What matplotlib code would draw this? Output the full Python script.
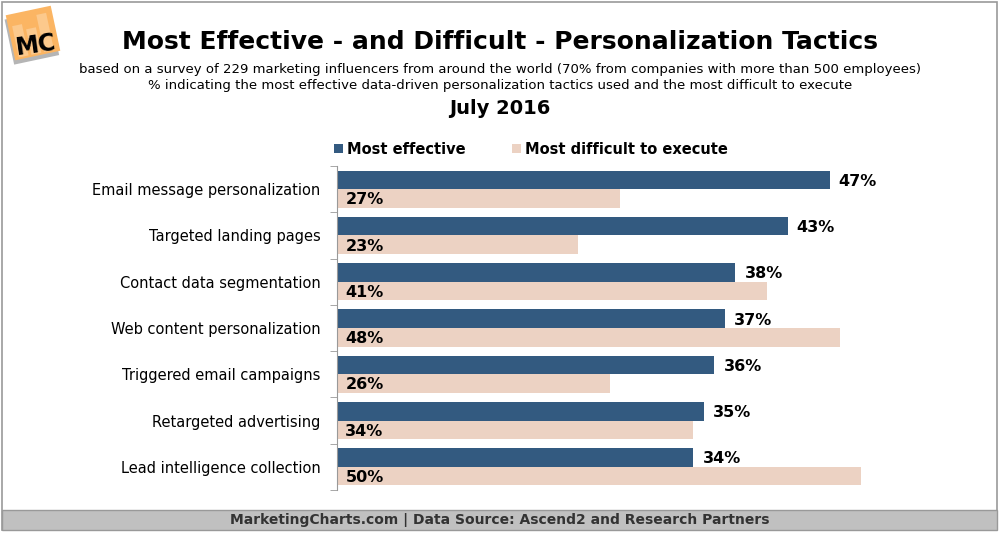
import matplotlib.pyplot as plt
from matplotlib.patches import Rectangle, Polygon
import numpy as np

# data
tactics = ["Email message personalization", "Targeted landing pages",
           "Contact data segmentation", "Web content personalization",
           "Triggered email campaigns", "Retargeted advertising",
           "Lead intelligence collection"]
most_effective = [47, 43, 38, 37, 36, 35, 34]
most_difficult = [27, 23, 41, 48, 26, 34, 50]

blue = "#335a80"
pink = "#ecd2c3"

W, H = 1000, 535
fig = plt.figure(figsize=(10, 5.35), dpi=100)

def fx(px):
    return px / W

def fy(py):
    return 1 - py / H

# frame and footer band
fig.patches.append(Rectangle((fx(2), fy(530)), fx(995), 528 / H, transform=fig.transFigure,
                             fill=False, edgecolor="#999999", lw=1.2))
fig.patches.append(Rectangle((fx(2), fy(530)), fx(995), 20 / H, transform=fig.transFigure,
                             facecolor="#c0c0c0", edgecolor="#999999", lw=1.0))
fig.text(0.5, fy(520), "MarketingCharts.com | Data Source: Ascend2 and Research Partners",
         ha="center", va="center", fontsize=10, fontweight="bold", color="#333333")

# logo (tilted orange square)
def rot(pts, cx, cy, ang):
    a = np.deg2rad(ang)
    out = []
    for x, y in pts:
        dx, dy = x - cx, y - cy
        out.append((cx + dx * np.cos(a) - dy * np.sin(a), cy + dx * np.sin(a) + dy * np.cos(a)))
    return [(fx(x), fy(y)) for x, y in out]

ang = -12
sq = [(10, 10), (56, 10), (56, 56), (10, 56)]
shadow = [(x - 2, y + 4) for x, y in sq]
fig.patches.append(Polygon(rot(shadow, 33, 33, ang), closed=True, transform=fig.transFigure,
                           facecolor="#b5b5b5", edgecolor="none"))
fig.patches.append(Polygon(rot(sq, 33, 33, ang), closed=True, transform=fig.transFigure,
                           facecolor="#fbb563", edgecolor="none"))
for bx, top in [(14, 22), (27, 28), (40, 16)]:
    bar = [(bx, top), (bx + 10, top), (bx + 10, 54), (bx, 54)]
    fig.patches.append(Polygon(rot(bar, 33, 33, ang), closed=True, transform=fig.transFigure,
                               facecolor="#fcc98c", edgecolor="none"))
fig.text(fx(36), fy(45), "MC", ha="center", va="center", fontsize=17, fontweight="bold",
         color="black", rotation=8)

# titles
fig.text(0.5, fy(42), "Most Effective - and Difficult - Personalization Tactics",
         ha="center", va="center", fontsize=18, fontweight="bold")
fig.text(0.5, fy(70), "based on a survey of 229 marketing influencers from around the world "
         "(70% from companies with more than 500 employees)",
         ha="center", va="center", fontsize=9.5)
fig.text(0.5, fy(86), "% indicating the most effective data-driven personalization tactics "
         "used and the most difficult to execute",
         ha="center", va="center", fontsize=9.5)
fig.text(0.5, fy(108), "July 2016", ha="center", va="center", fontsize=14, fontweight="bold")

# bars
ax = fig.add_axes([fx(337), fy(490), 629 / W, 324 / H])
n = len(tactics)
y = np.arange(n)
h = 0.40
ax.barh(y - h / 2, most_effective, height=h, color=blue, label="Most effective")
ax.barh(y + h / 2, most_difficult, height=h, color=pink, label="Most difficult to execute")

for i in range(n):
    ax.annotate(f"{most_effective[i]}%", (most_effective[i], y[i] - h / 2),
                xytext=(6.5, -1), textcoords="offset points", ha="left", va="center",
                fontsize=11.5, fontweight="bold")
    ax.annotate(f"{most_difficult[i]}%", (0, y[i] + h / 2),
                xytext=(6, -1), textcoords="offset points", ha="left", va="center",
                fontsize=11.5, fontweight="bold")

ax.set_xlim(0, 60)
ax.set_ylim(n - 0.5, -0.5)
ax.set_yticks(y)
ax.set_yticklabels(tactics, fontsize=10.5)
ax.set_yticks(np.arange(n + 1) - 0.5, minor=True)
ax.tick_params(axis="y", which="major", length=0, pad=12)
ax.tick_params(axis="y", which="minor", length=5, color="#999999", direction="out")
ax.set_xticks([])
for s in ["top", "right", "bottom"]:
    ax.spines[s].set_visible(False)
ax.spines["left"].set_color("#999999")

fig.legend(loc="center", bbox_to_anchor=(0.531, fy(149)), ncol=2, frameon=False,
           prop={"weight": "bold", "size": 10.5}, handlelength=0.6, handleheight=0.6,
           handletextpad=0.3, columnspacing=3.2)

fig.savefig("out.png", dpi=100)
